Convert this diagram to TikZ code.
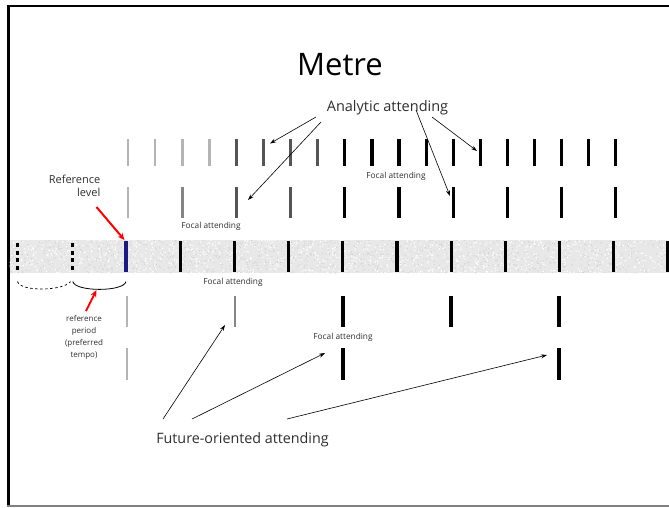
\documentclass[tikz,border=0pt]{standalone}
\usepackage{fontspec}
\setmainfont{Open Sans}
\usetikzlibrary{arrows.meta}
\definecolor{txt}{HTML}{2E2E2E}
\definecolor{tlight}{HTML}{B4B4B4}
\definecolor{tmid}{HTML}{858585}
\definecolor{tdark}{HTML}{555555}
\definecolor{tblue}{HTML}{1A1A80}
\definecolor{bandgray}{HTML}{E8E8E8}
\begin{document}
\begin{tikzpicture}[x=1pt,y=-1pt,
  beat/.style={line width=3.2pt},
  softbeat/.style={line width=2.6pt},
  lbl/.style={text=txt,inner sep=0pt},
  focal/.style={lbl,font=\fontsize{8.3}{10}\selectfont},
  pointer/.style={line width=0.6pt,-{Stealth[length=6pt,width=4pt]}},
  redpointer/.style={red,line width=2pt,-{Stealth[length=7pt,width=6pt]}}
]
\useasboundingbox (0,0) rectangle (669,507);

% frame
\draw[line width=2pt] (7,6) -- (669,6);
\draw[line width=2.6pt] (8.3,5) -- (8.3,507);
\draw[gray,line width=1.5pt] (7,506) -- (669,506);

% textured reference band
\begin{scope}
\clip (9.6,240) rectangle (669,273);
\fill[bandgray] (9.6,240) rectangle (669,273);
\pgfmathsetseed{7}
\foreach \k in {1,...,1400}{
  \pgfmathsetmacro\rx{9+660*rnd}
  \pgfmathsetmacro\ry{240+33*rnd}
  \fill[gray!35] (\rx,\ry) circle (0.6);
}
\foreach \k in {1,...,1000}{
  \pgfmathsetmacro\rx{9+660*rnd}
  \pgfmathsetmacro\ry{240+33*rnd}
  \fill[white] (\rx,\ry) circle (0.8);
}
\end{scope}

% row 1 (fastest level)
\foreach \x/\c in {128/tlight,155.1/tlight,182.2/tlight,209.3/tlight,
                   236.4/tdark,263.5/tdark,290.6/tdark,317.7/tdark}
  \draw[softbeat,draw=\c] (\x,139) -- (\x,166);
\foreach \i in {8,...,18}
  \draw[beat] ({128+27.1*\i},139) -- ({128+27.1*\i},166);

% row 2
\foreach \x/\c in {128/tlight,182.2/tmid,236.4/tdark,290.6/tdark}
  \draw[softbeat,draw=\c] (\x,187) -- (\x,218);
\foreach \i in {4,...,9}
  \draw[beat] ({128+54.2*\i},187) -- ({128+54.2*\i},218);

% reference level beats in the band
\draw[beat,dash pattern=on 4pt off 3.6pt] (17.3,243) -- (17.3,271);
\draw[beat,dash pattern=on 4pt off 3.6pt] (72.4,243) -- (72.4,271);
\draw[beat,draw=tblue] (126,241) -- (126,272);
\foreach \i in {1,...,10}
  \draw[beat] ({126+54.2*\i},241) -- ({126+54.2*\i},272);

% row 3
\draw[softbeat,draw=tlight] (127,296) -- (127,327);
\draw[softbeat,draw=tmid] (235,296) -- (235,327);
\foreach \x in {343,451,559}
  \draw[beat] (\x,296) -- (\x,327);

% row 4
\draw[softbeat,draw=tlight] (127,348) -- (127,380);
\foreach \x in {343,559}
  \draw[beat] (\x,348) -- (\x,380);

% braces marking the reference period
\coordinate (pa) at (17.5,281.5);
\coordinate (pb) at (70.5,281.5);
\coordinate (pc) at (72.8,281.5);
\coordinate (pd) at (126,281.5);
\draw[line width=0.7pt,dash pattern=on 2.5pt off 2.5pt]
  (pa) .. controls (20,292) and (64,291) .. (pb);
\draw[line width=0.8pt]
  (pc) .. controls (75,292) and (124,292) .. (pd);

% labels
\node[lbl,text=black,font=\fontsize{31}{34}\selectfont] (title) at (340,65) {Metre};
\node[lbl,font=\fontsize{14.5}{17}\selectfont] (analytic) at (387.5,108) {Analytic attending};
\node[lbl,font=\fontsize{14.3}{17}\selectfont] (future) at (242.5,440) {Future-oriented attending};
\node[focal] (focalA) at (396,176) {Focal attending};
\node[focal] (focalB) at (211,226.5) {Focal attending};
\node[focal] (focalC) at (233,282.5) {Focal attending};
\node[focal] (focalD) at (343,337.5) {Focal attending};
\node[lbl,align=right,anchor=east,font=\fontsize{11}{13}\selectfont]
  (reflevel) at (100.5,186) {Reference\\level};
\node[lbl,align=center,font=\fontsize{8}{12}\selectfont]
  (refperiod) at (84,337.5) {reference\\period\\(preferred\\tempo)};

% pointer ends
\coordinate (a1s) at (316,117);  \coordinate (a1e) at (270,143.5);
\coordinate (a2s) at (321,122);  \coordinate (a2e) at (248,200);
\coordinate (a3s) at (416,110);  \coordinate (a3e) at (450,196);
\coordinate (a4s) at (432,117);  \coordinate (a4e) at (477,151);
\coordinate (f1s) at (163,419);  \coordinate (f1e) at (225,325);
\coordinate (f2s) at (192,419);  \coordinate (f2e) at (325,353);
\coordinate (f3s) at (287,419);  \coordinate (f3e) at (547,355);
\coordinate (r1s) at (96.5,207); \coordinate (r1e) at (124.5,240);
\coordinate (r2s) at (86,311);   \coordinate (r2e) at (96.5,290);

\draw[pointer] (a1s) -- (a1e);
\draw[pointer] (a2s) -- (a2e);
\draw[pointer] (a3s) -- (a3e);
\draw[pointer] (a4s) -- (a4e);
\draw[pointer] (f1s) -- (f1e);
\draw[pointer] (f2s) -- (f2e);
\draw[pointer] (f3s) -- (f3e);
\draw[redpointer] (r1s) -- (r1e);
\draw[redpointer] (r2s) -- (r2e);
\end{tikzpicture}
\end{document}
